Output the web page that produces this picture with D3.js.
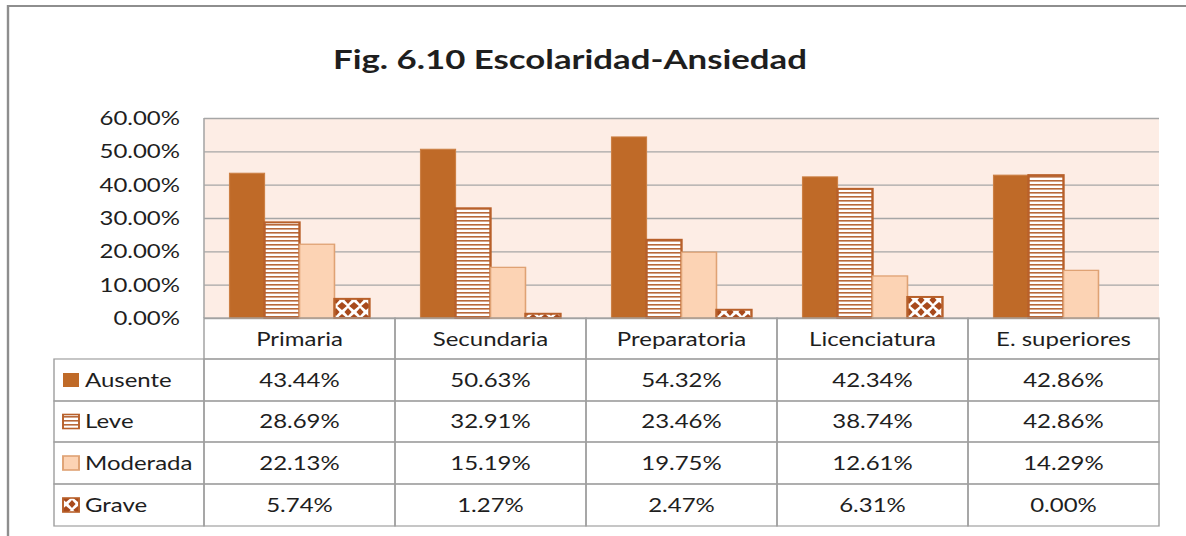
<!doctype html>
<html>
  <head>
    <script src="https://cdnjs.cloudflare.com/ajax/libs/d3/7.8.5/d3.min.js"></script>
    <style>
      body { margin: 0; background: #fff; }
      text { font-family: Lato, "Open Sans", sans-serif; fill: #1e1e1e; }
      .grid line { stroke: #a6a6a6; stroke-width: 1.3; }
      .cell { stroke: #a0a0a0; stroke-width: 1.2; fill: none; }
    </style>
  </head>
  <body>
    <svg id="chart" width="1186" height="536"></svg>
    <script>
      // values
      var categories = ["Primaria", "Secundaria", "Preparatoria", "Licenciatura", "E. superiores"];
      var series = ["Ausente", "Leve", "Moderada", "Grave"];
      var ausente = [43.44, 50.63, 54.32, 42.34, 42.86];
      var leve = [28.69, 32.91, 23.46, 38.74, 42.86];
      var moderada = [22.13, 15.19, 19.75, 12.61, 14.29];
      var grave = [5.74, 1.27, 2.47, 6.31, 0.00];
      var yTicks = [0, 10, 20, 30, 40, 50, 60];

      var values = [ausente, leve, moderada, grave];

      // the original picture is stretched sideways, so everything is drawn
      // in narrower units and scaled back out by S
      var S = 1.2;
      var px = v => v / S;

      var plot = { left: px(204), right: px(1159), top: 118, bottom: 318 };
      var tbl = { labelLeft: px(54), header: 359, rows: [359, 401, 442, 484, 526] };

      var svg = d3.select("#chart");
      var defs = svg.append("defs");

      // horizontal stripes for "Leve"
      var pStripe = defs.append("pattern")
          .attr("id", "stripes")
          .attr("patternUnits", "userSpaceOnUse")
          .attr("width", 8).attr("height", 4);
      pStripe.append("rect").attr("width", 8).attr("height", 4).attr("fill", "#fff");
      pStripe.append("rect").attr("y", 0).attr("width", 8).attr("height", 1.6).attr("fill", "#b8693a");

      // diamonds for "Grave"
      var pDia = defs.append("pattern")
          .attr("id", "diamonds")
          .attr("patternUnits", "userSpaceOnUse")
          .attr("width", 10).attr("height", 12);
      pDia.append("rect").attr("width", 10).attr("height", 12).attr("fill", "#fff");
      pDia.append("path")
          .attr("d", "M5,2 L9,6 L5,10 L1,6 Z M0,-4 L3,0 L0,4 L-3,0 Z M10,-4 L13,0 L10,4 L7,0 Z M0,8 L3,12 L0,16 L-3,12 Z M10,8 L13,12 L10,16 L7,12 Z")
          .attr("fill", "#a84a1c");

      var fills = ["#bf6a28", "url(#stripes)", "#fcd3b4", "url(#diamonds)"];
      var strokes = ["#cc8045", "#b8602a", "#dfa274", "#b8602a"];
      var strokeW = [1, 2, 1.3, 2];

      var g = svg.append("g").attr("transform", "scale(" + S + ",1)");

      // outer frame
      g.append("path")
          .attr("d", "M" + px(8) + ",540 L" + px(8) + ",6 L" + px(1190) + ",6")
          .attr("fill", "none")
          .attr("stroke", "#8e8e8e")
          .attr("stroke-width", 2);

      // title
      g.append("text")
          .attr("x", px(570))
          .attr("y", 69)
          .attr("text-anchor", "middle")
          .attr("font-size", 27)
          .attr("font-weight", "bold")
          .attr("textLength", px(474))
          .attr("lengthAdjust", "spacingAndGlyphs")
          .text("Fig. 6.10 Escolaridad-Ansiedad");

      var x0 = d3.scaleBand()
          .domain(categories)
          .range([plot.left, plot.right]);

      var x1 = d3.scaleBand()
          .domain(series)
          .range([0, x0.bandwidth()])
          .paddingOuter(0.73);

      var y = d3.scaleLinear()
          .domain([0, 60])
          .range([plot.bottom, plot.top]);

      g.append("rect")
          .attr("x", plot.left)
          .attr("y", plot.top)
          .attr("width", plot.right - plot.left)
          .attr("height", plot.bottom - plot.top)
          .attr("fill", "#fdede5");

      var yAxis = d3.axisLeft(y)
          .tickValues(yTicks)
          .tickSize(-(plot.right - plot.left))
          .tickPadding(px(204 - 180))
          .tickFormat(d => d.toFixed(2) + "%");

      var ax = g.append("g")
          .attr("class", "grid")
          .attr("transform", "translate(" + plot.left + ",0)")
          .call(yAxis);
      ax.select(".domain").remove();
      ax.selectAll("text")
          .attr("font-size", 20)
          .attr("fill", "#1e1e1e")
          .attr("font-family", "Lato, sans-serif");

      // bars
      var rows = categories.map((c, i) => ({ cat: c, vals: series.map((s, j) => ({ s: s, j: j, v: values[j][i] })) }));

      var grp = g.selectAll("g.cat")
          .data(rows)
          .enter()
          .append("g")
            .attr("class", "cat")
            .attr("transform", d => "translate(" + x0(d.cat) + ",0)");

      grp.selectAll("rect")
          .data(d => d.vals.filter(p => p.v > 0))
          .enter()
          .append("rect")
            .attr("x", d => x1(d.s))
            .attr("y", d => y(d.v))
            .attr("width", x1.bandwidth())
            .attr("height", d => y(0) - y(d.v))
            .attr("fill", d => fills[d.j])
            .attr("stroke", d => strokes[d.j])
            .attr("stroke-width", d => strokeW[d.j]);

      // left edge of plot
      g.append("line")
          .attr("x1", plot.left).attr("x2", plot.left)
          .attr("y1", plot.top).attr("y2", plot.bottom)
          .attr("stroke", "#a6a6a6").attr("stroke-width", 1.3);

      // data table: header cells
      categories.forEach(c => {
        g.append("rect").attr("class", "cell")
            .attr("x", x0(c)).attr("y", plot.bottom)
            .attr("width", x0.bandwidth()).attr("height", tbl.header - plot.bottom);
        g.append("text")
            .attr("x", x0(c) + x0.bandwidth() / 2)
            .attr("y", 346)
            .attr("text-anchor", "middle")
            .attr("font-size", 20)
            .text(c);
      });

      // data table: body
      series.forEach((s, j) => {
        var top = tbl.rows[j], bot = tbl.rows[j + 1];
        var mid = (top + bot) / 2;
        g.append("rect").attr("class", "cell")
            .attr("x", tbl.labelLeft).attr("y", top)
            .attr("width", plot.left - tbl.labelLeft).attr("height", bot - top);

        g.append("rect")
            .attr("x", px(63)).attr("y", mid - 7)
            .attr("width", px(16)).attr("height", 14)
            .attr("fill", fills[j])
            .attr("stroke", strokes[j])
            .attr("stroke-width", j === 0 ? 0 : 1.6);

        g.append("text")
            .attr("x", px(85))
            .attr("y", mid + 7)
            .attr("font-size", 20)
            .text(s);

        categories.forEach((c, i) => {
          g.append("rect").attr("class", "cell")
              .attr("x", x0(c)).attr("y", top)
              .attr("width", x0.bandwidth()).attr("height", bot - top);
          g.append("text")
              .attr("x", x0(c) + x0.bandwidth() / 2)
              .attr("y", mid + 7)
              .attr("text-anchor", "middle")
              .attr("font-size", 20)
              .text(values[j][i].toFixed(2) + "%");
        });
      });
    </script>
  </body>
</html>
